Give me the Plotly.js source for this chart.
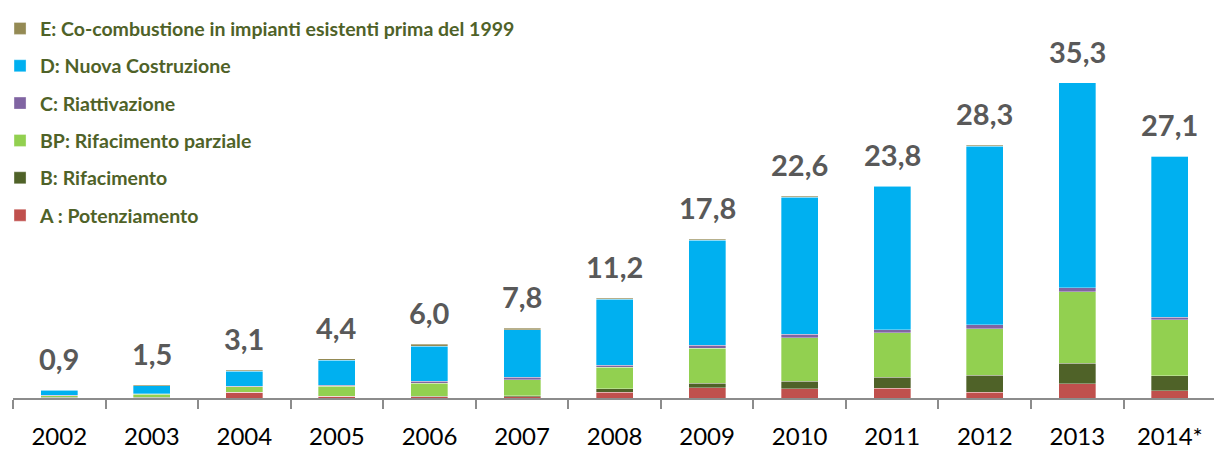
<!DOCTYPE html>
<html>
<head>
<meta charset="utf-8">
<script src="https://cdn.plot.ly/plotly-3.0.1.min.js"></script>
<style>html,body{margin:0;padding:0;background:#fff;}#chart{width:1214px;height:450px;}</style>
</head>
<body>
<div id="chart"></div>
<script>
const years = ['2002','2003','2004','2005','2006','2007','2008','2009','2010','2011','2012','2013','2014*'];
const totals = [0.9, 1.5, 3.1, 4.4, 6.0, 7.8, 11.2, 17.8, 22.6, 23.8, 28.3, 35.3, 27.1];
const totalLabels = ['0,9','1,5','3,1','4,4','6,0','7,8','11,2','17,8','22,6','23,8','28,3','35,3','27,1'];

const seriesNames = ['A : Potenziamento','B: Rifacimento','BP: Rifacimento parziale','C: Riattivazione','D: Nuova Costruzione','E: Co-combustione in impianti esistenti prima del 1999'];
const A  = [0.05, 0.05, 0.63, 0.18, 0.15, 0.15, 0.67, 1.15, 1.04, 1.08, 0.67, 1.57, 0.82];
const B  = [0.02, 0.03, 0.03, 0.03, 0.03, 0.12, 0.34, 0.52, 0.82, 1.23, 1.86, 2.35, 1.65];
const BP = [0.20, 0.34, 0.60, 1.09, 1.50, 1.79, 2.42, 3.88, 4.90, 4.98, 5.23, 7.96, 6.28];
const C  = [0.03, 0.07, 0.03, 0.11, 0.18, 0.26, 0.22, 0.34, 0.37, 0.37, 0.45, 0.45, 0.29];
const D  = [0.55, 0.86, 1.70, 2.80, 3.96, 5.30, 7.44, 11.77, 15.37, 16.07, 19.99, 22.97, 18.05];
const E  = [0.05, 0.15, 0.11, 0.19, 0.18, 0.18, 0.11, 0.14, 0.10, 0.07, 0.10, 0.00, 0.01];
const colors = ['#C0504D','#4F6228','#92D050','#8064A2','#00B0F0','#948A54'];

const seriesValues = [A, B, BP, C, D, E];
const traces = seriesValues.map((vals, i) => ({
  type: 'bar',
  x: years,
  y: vals,
  name: seriesNames[i],
  legendgroup: 'g' + i,
  legendrank: seriesValues.length - i,
  marker: {color: colors[i], line: {color: 'rgba(255,255,255,0.55)', width: 0.6}},
  hoverinfo: 'x+y+name'
}));

const annotations = years.map((yr, i) => ({
  x: i, y: totals[i], xref: 'x', yref: 'y',
  text: totalLabels[i], showarrow: false,
  yanchor: 'bottom', yshift: 12,
  font: {family: 'Lato', size: 29, color: '#595959', weight: 700}
}));

const layout = {
  width: 1214, height: 450,
  margin: {l: 13, r: 0, t: 41, b: 52},
  paper_bgcolor: '#ffffff', plot_bgcolor: '#ffffff',
  barmode: 'stack', bargap: 0.6,
  showlegend: true,
  legend: {
    x: -0.0108, xanchor: 'left', y: 1.089, yanchor: 'top',
    traceorder: 'grouped', tracegroupgap: 9,
    font: {family: 'Lato', size: 19.5, color: '#4F6228', weight: 700},
    bgcolor: 'rgba(0,0,0,0)', borderwidth: 0
  },
  xaxis: {
    type: 'category', range: [-0.5, 12.477],
    showline: true, linecolor: '#8C8C8C', linewidth: 2,
    ticks: 'outside', tickson: 'boundaries', ticklen: 9, tickwidth: 2, tickcolor: '#8C8C8C',
    tickfont: {family: 'Lato', size: 24, color: '#000000'},
    ticklabelstandoff: 16,
    showgrid: false, zeroline: false, fixedrange: true
  },
  yaxis: {range: [0, 40], visible: false, showgrid: false, zeroline: false, fixedrange: true},
  annotations: annotations
};

Plotly.newPlot('chart', traces, layout, {displayModeBar: false, staticPlot: true});
</script>
</body>
</html>
